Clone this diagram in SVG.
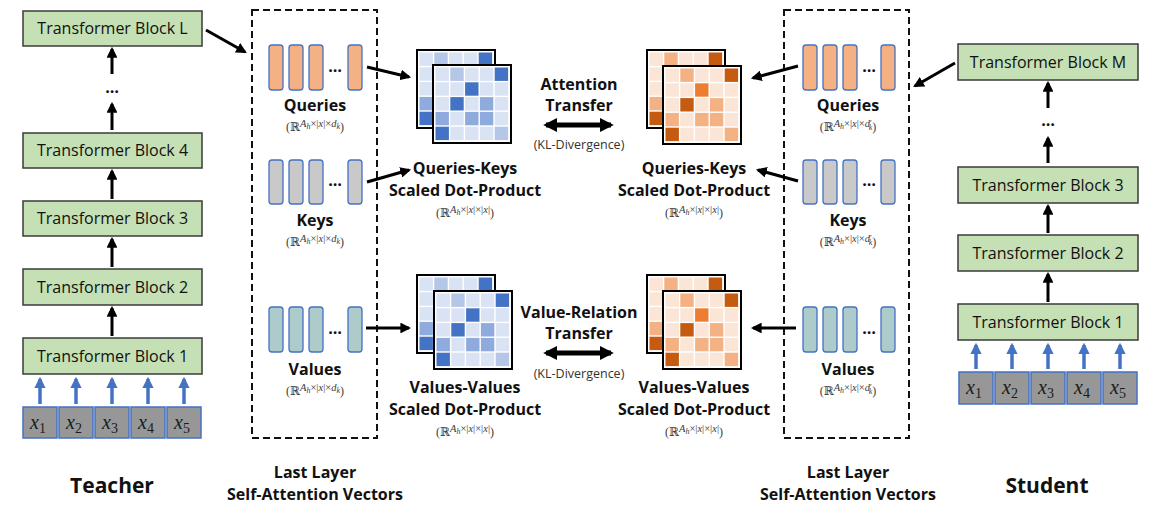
<svg xmlns="http://www.w3.org/2000/svg" xmlns:xlink="http://www.w3.org/1999/xlink" width="1160" height="509" viewBox="0 0 1160 509">
  <style>
    text { font-family: "Open Sans", "Liberation Sans", sans-serif; fill: #111; }
    .blk-box { fill: #c5e0b4; stroke: #3a3a3a; stroke-width: 1.5; }
    .blk { font-size: 16px; text-anchor: middle; }
    .lbl { font-size: 16px; font-weight: bold; text-anchor: middle; }
    .big { font-size: 21px; font-weight: bold; text-anchor: middle; }
    .kl { font-size: 12.5px; fill: #333; text-anchor: middle; }
    .dots { font-size: 16px; text-anchor: middle; font-weight: bold; }
    .f { font-family: "Liberation Serif", "DejaVu Serif", serif; font-size: 12px; fill: #3a3a3a; text-anchor: middle; }
    .f .sp { font-size: 10.5px; }
    .f .sb { font-size: 8px; }
    .f .it { font-style: italic; }
    .inp { fill: #979797; stroke: #4472c4; stroke-width: 1.5; }
    .xv { font-family: "Liberation Serif", "DejaVu Serif", serif; font-size: 20px; font-style: italic; fill: #1a1a1a; text-anchor: middle; }
    .xv tspan { font-size: 14px; font-style: normal; }
    .vq { fill: #f4b183; stroke: #4472c4; stroke-width: 1.3; }
    .vk { fill: #c9c9c9; stroke: #4472c4; stroke-width: 1.3; }
    .vv { fill: #aecbcb; stroke: #4472c4; stroke-width: 1.3; }
    .box { fill: none; stroke: #111; stroke-width: 2; stroke-dasharray: 7 4; }
    .arr { stroke: #000; stroke-width: 3; fill: none; marker-end: url(#ah); }
    .barr { stroke: #4472c4; stroke-width: 3.5; fill: none; marker-end: url(#bh); }
    .dbl { stroke: #000; stroke-width: 5; fill: none; marker-start: url(#dh); marker-end: url(#dh); }
    .mframe { fill: #fff; stroke: #000; stroke-width: 2; }
  </style>
  <defs>
    <marker id="ah" viewBox="0 0 10 10" refX="8" refY="5" markerWidth="3.6" markerHeight="3.6" orient="auto">
      <path d="M0,0 L10,5 L0,10 z" fill="#000"/>
    </marker>
    <marker id="bh" viewBox="0 0 10 10" refX="8" refY="5" markerWidth="3.2" markerHeight="3.2" orient="auto">
      <path d="M0,0 L10,5 L0,10 z" fill="#4472c4"/>
    </marker>
    <marker id="dh" viewBox="0 0 10 10" refX="8" refY="5" markerWidth="2.8" markerHeight="2.8" orient="auto-start-reverse">
      <path d="M0,0 L10,5 L0,10 z" fill="#000"/>
    </marker>
    <!-- 5x5 attention map, blue shades -->
    <g id="mB">
      <rect class="mframe" x="0" y="0" width="78" height="78"/>
      <g transform="translate(2.5,2.5)">
        <rect x="0" y="0" width="13.4" height="13.4" fill="#dae3f3"/><rect x="14.8" y="0" width="13.4" height="13.4" fill="#b4c7e7"/><rect x="29.6" y="0" width="13.4" height="13.4" fill="#dae3f3"/><rect x="44.4" y="0" width="13.4" height="13.4" fill="#dae3f3"/><rect x="59.2" y="0" width="13.4" height="13.4" fill="#4472c4"/>
        <rect x="0" y="14.8" width="13.4" height="13.4" fill="#dae3f3"/><rect x="14.8" y="14.8" width="13.4" height="13.4" fill="#dae3f3"/><rect x="29.6" y="14.8" width="13.4" height="13.4" fill="#4472c4"/><rect x="44.4" y="14.8" width="13.4" height="13.4" fill="#dae3f3"/><rect x="59.2" y="14.8" width="13.4" height="13.4" fill="#dae3f3"/>
        <rect x="0" y="29.6" width="13.4" height="13.4" fill="#dae3f3"/><rect x="14.8" y="29.6" width="13.4" height="13.4" fill="#4472c4"/><rect x="29.6" y="29.6" width="13.4" height="13.4" fill="#dae3f3"/><rect x="44.4" y="29.6" width="13.4" height="13.4" fill="#8faadc"/><rect x="59.2" y="29.6" width="13.4" height="13.4" fill="#dae3f3"/>
        <rect x="0" y="44.4" width="13.4" height="13.4" fill="#8faadc"/><rect x="14.8" y="44.4" width="13.4" height="13.4" fill="#dae3f3"/><rect x="29.6" y="44.4" width="13.4" height="13.4" fill="#8faadc"/><rect x="44.4" y="44.4" width="13.4" height="13.4" fill="#8faadc"/><rect x="59.2" y="44.4" width="13.4" height="13.4" fill="#dae3f3"/>
        <rect x="0" y="59.2" width="13.4" height="13.4" fill="#4472c4"/><rect x="14.8" y="59.2" width="13.4" height="13.4" fill="#dae3f3"/><rect x="29.6" y="59.2" width="13.4" height="13.4" fill="#dae3f3"/><rect x="44.4" y="59.2" width="13.4" height="13.4" fill="#dae3f3"/><rect x="59.2" y="59.2" width="13.4" height="13.4" fill="#b4c7e7"/>
      </g>
    </g>
    <!-- 5x5 attention map, orange shades -->
    <g id="mO">
      <rect class="mframe" x="0" y="0" width="78" height="78"/>
      <g transform="translate(2.5,2.5)">
        <rect x="0" y="0" width="13.4" height="13.4" fill="#fbe5d6"/><rect x="14.8" y="0" width="13.4" height="13.4" fill="#f4b183"/><rect x="29.6" y="0" width="13.4" height="13.4" fill="#fbe5d6"/><rect x="44.4" y="0" width="13.4" height="13.4" fill="#fbe5d6"/><rect x="59.2" y="0" width="13.4" height="13.4" fill="#c55a11"/>
        <rect x="0" y="14.8" width="13.4" height="13.4" fill="#fbe5d6"/><rect x="14.8" y="14.8" width="13.4" height="13.4" fill="#fbe5d6"/><rect x="29.6" y="14.8" width="13.4" height="13.4" fill="#ed7d31"/><rect x="44.4" y="14.8" width="13.4" height="13.4" fill="#fbe5d6"/><rect x="59.2" y="14.8" width="13.4" height="13.4" fill="#fbe5d6"/>
        <rect x="0" y="29.6" width="13.4" height="13.4" fill="#fbe5d6"/><rect x="14.8" y="29.6" width="13.4" height="13.4" fill="#c55a11"/><rect x="29.6" y="29.6" width="13.4" height="13.4" fill="#fbe5d6"/><rect x="44.4" y="29.6" width="13.4" height="13.4" fill="#f4b183"/><rect x="59.2" y="29.6" width="13.4" height="13.4" fill="#fbe5d6"/>
        <rect x="0" y="44.4" width="13.4" height="13.4" fill="#f4b183"/><rect x="14.8" y="44.4" width="13.4" height="13.4" fill="#fbe5d6"/><rect x="29.6" y="44.4" width="13.4" height="13.4" fill="#f4b183"/><rect x="44.4" y="44.4" width="13.4" height="13.4" fill="#f4b183"/><rect x="59.2" y="44.4" width="13.4" height="13.4" fill="#fbe5d6"/>
        <rect x="0" y="59.2" width="13.4" height="13.4" fill="#c55a11"/><rect x="14.8" y="59.2" width="13.4" height="13.4" fill="#fbe5d6"/><rect x="29.6" y="59.2" width="13.4" height="13.4" fill="#fbe5d6"/><rect x="44.4" y="59.2" width="13.4" height="13.4" fill="#fbe5d6"/><rect x="59.2" y="59.2" width="13.4" height="13.4" fill="#f4b183"/>
      </g>
    </g>
  </defs>

  <!-- Teacher stack -->
  <g id="teacher-block-L"><rect class="blk-box" x="23" y="11" width="179" height="35"/><text class="blk" x="112.5" y="34">Transformer Block L</text></g>
  <g id="teacher-block-4"><rect class="blk-box" x="23" y="133" width="179" height="35"/><text class="blk" x="112.5" y="156">Transformer Block 4</text></g>
  <g id="teacher-block-3"><rect class="blk-box" x="23" y="201" width="179" height="35"/><text class="blk" x="112.5" y="224">Transformer Block 3</text></g>
  <g id="teacher-block-2"><rect class="blk-box" x="23" y="269" width="179" height="36"/><text class="blk" x="112.5" y="293">Transformer Block 2</text></g>
  <g id="teacher-block-1"><rect class="blk-box" x="23" y="338" width="179" height="36"/><text class="blk" x="112.5" y="362">Transformer Block 1</text></g>
  <g id="teacher-dots"><text class="dots" x="112" y="93">…</text></g>
  <g id="teacher-inputs">
    <rect class="inp" x="23" y="407" width="34" height="31"/><text class="xv" x="38" y="429">x<tspan dy="4">1</tspan></text>
    <rect class="inp" x="59" y="407" width="34" height="31"/><text class="xv" x="74" y="429">x<tspan dy="4">2</tspan></text>
    <rect class="inp" x="95" y="407" width="34" height="31"/><text class="xv" x="110" y="429">x<tspan dy="4">3</tspan></text>
    <rect class="inp" x="131" y="407" width="34" height="31"/><text class="xv" x="146" y="429">x<tspan dy="4">4</tspan></text>
    <rect class="inp" x="167" y="407" width="34" height="31"/><text class="xv" x="182" y="429">x<tspan dy="4">5</tspan></text>
  </g>
  <g id="teacher-label"><text class="big" x="112" y="493">Teacher</text></g>

  <!-- Teacher last-layer vectors -->
  <g id="teacher-vectors">
    <rect class="box" x="252" y="10" width="125" height="428"/>
    <rect class="vq" x="269" y="45" width="14" height="45" rx="3"/><rect class="vq" x="289" y="45" width="14" height="45" rx="3"/><rect class="vq" x="309" y="45" width="14" height="45" rx="3"/><rect class="vq" x="348" y="45" width="14" height="45" rx="3"/>
    <text class="dots" x="335" y="72">…</text>
    <text class="lbl" x="315" y="111">Queries</text>
    <text class="f" x="315" y="131">(ℝ<tspan class="sp it" dy="-4">A</tspan><tspan class="sb it" dy="2">h</tspan><tspan class="sp" dy="-2">×|</tspan><tspan class="sp it">x</tspan><tspan class="sp">|×</tspan><tspan class="sp it">d</tspan><tspan class="sb it" dy="2">k</tspan><tspan dy="2">)</tspan></text>
    <rect class="vk" x="269" y="160" width="14" height="44" rx="3"/><rect class="vk" x="289" y="160" width="14" height="44" rx="3"/><rect class="vk" x="309" y="160" width="14" height="44" rx="3"/><rect class="vk" x="348" y="160" width="14" height="44" rx="3"/>
    <text class="dots" x="335" y="186">…</text>
    <text class="lbl" x="315" y="226">Keys</text>
    <text class="f" x="315" y="246">(ℝ<tspan class="sp it" dy="-4">A</tspan><tspan class="sb it" dy="2">h</tspan><tspan class="sp" dy="-2">×|</tspan><tspan class="sp it">x</tspan><tspan class="sp">|×</tspan><tspan class="sp it">d</tspan><tspan class="sb it" dy="2">k</tspan><tspan dy="2">)</tspan></text>
    <rect class="vv" x="269" y="307" width="14" height="45" rx="3"/><rect class="vv" x="289" y="307" width="14" height="45" rx="3"/><rect class="vv" x="309" y="307" width="14" height="45" rx="3"/><rect class="vv" x="348" y="307" width="14" height="45" rx="3"/>
    <text class="dots" x="335" y="334">…</text>
    <text class="lbl" x="315" y="375">Values</text>
    <text class="f" x="315" y="395">(ℝ<tspan class="sp it" dy="-4">A</tspan><tspan class="sb it" dy="2">h</tspan><tspan class="sp" dy="-2">×|</tspan><tspan class="sp it">x</tspan><tspan class="sp">|×</tspan><tspan class="sp it">d</tspan><tspan class="sb it" dy="2">k</tspan><tspan dy="2">)</tspan></text>
  </g>
  <g id="teacher-caption"><text class="lbl" x="315" y="478">Last Layer</text><text class="lbl" x="315" y="500">Self-Attention Vectors</text></g>

  <!-- Teacher attention maps -->
  <g id="teacher-qk">
    <use xlink:href="#mB" x="417" y="50"/><use xlink:href="#mB" x="433" y="65"/>
    <text class="lbl" x="465" y="174">Queries-Keys</text>
    <text class="lbl" x="465" y="196">Scaled Dot-Product</text>
    <text class="f" x="465" y="217">(ℝ<tspan class="sp it" dy="-4">A</tspan><tspan class="sb it" dy="2">h</tspan><tspan class="sp" dy="-2">×|</tspan><tspan class="sp it">x</tspan><tspan class="sp">|×|</tspan><tspan class="sp it">x</tspan><tspan class="sp">|</tspan><tspan dy="4">)</tspan></text>
  </g>
  <g id="teacher-vv">
    <use xlink:href="#mB" x="417" y="275"/><use xlink:href="#mB" x="434" y="291"/>
    <text class="lbl" x="465" y="393">Values-Values</text>
    <text class="lbl" x="465" y="415">Scaled Dot-Product</text>
    <text class="f" x="465" y="436">(ℝ<tspan class="sp it" dy="-4">A</tspan><tspan class="sb it" dy="2">h</tspan><tspan class="sp" dy="-2">×|</tspan><tspan class="sp it">x</tspan><tspan class="sp">|×|</tspan><tspan class="sp it">x</tspan><tspan class="sp">|</tspan><tspan dy="4">)</tspan></text>
  </g>

  <!-- Transfer objectives -->
  <g id="attention-transfer">
    <text class="lbl" x="579" y="90">Attention</text>
    <text class="lbl" x="579" y="111">Transfer</text>
    <text class="kl" x="579" y="149">(KL-Divergence)</text>
  </g>
  <g id="value-relation-transfer">
    <text class="lbl" x="579" y="318">Value-Relation</text>
    <text class="lbl" x="579" y="339">Transfer</text>
    <text class="kl" x="579" y="378">(KL-Divergence)</text>
  </g>

  <!-- Student attention maps -->
  <g id="student-qk">
    <use xlink:href="#mO" x="647" y="50"/><use xlink:href="#mO" x="663" y="66"/>
    <text class="lbl" x="694" y="174">Queries-Keys</text>
    <text class="lbl" x="694" y="196">Scaled Dot-Product</text>
    <text class="f" x="694" y="217">(ℝ<tspan class="sp it" dy="-4">A</tspan><tspan class="sb it" dy="2">h</tspan><tspan class="sp" dy="-2">×|</tspan><tspan class="sp it">x</tspan><tspan class="sp">|×|</tspan><tspan class="sp it">x</tspan><tspan class="sp">|</tspan><tspan dy="4">)</tspan></text>
  </g>
  <g id="student-vv">
    <use xlink:href="#mO" x="647" y="275"/><use xlink:href="#mO" x="663" y="291"/>
    <text class="lbl" x="694" y="393">Values-Values</text>
    <text class="lbl" x="694" y="415">Scaled Dot-Product</text>
    <text class="f" x="694" y="436">(ℝ<tspan class="sp it" dy="-4">A</tspan><tspan class="sb it" dy="2">h</tspan><tspan class="sp" dy="-2">×|</tspan><tspan class="sp it">x</tspan><tspan class="sp">|×|</tspan><tspan class="sp it">x</tspan><tspan class="sp">|</tspan><tspan dy="4">)</tspan></text>
  </g>

  <!-- Student last-layer vectors -->
  <g id="student-vectors">
    <rect class="box" x="784" y="10" width="125" height="428"/>
    <rect class="vq" x="803" y="45" width="14" height="45" rx="3"/><rect class="vq" x="823" y="45" width="14" height="45" rx="3"/><rect class="vq" x="843" y="45" width="14" height="45" rx="3"/><rect class="vq" x="881" y="45" width="14" height="45" rx="3"/>
    <text class="dots" x="869" y="72">…</text>
    <text class="lbl" x="848" y="111">Queries</text>
    <text class="f" x="848" y="131">(ℝ<tspan class="sp it" dy="-4">A</tspan><tspan class="sb it" dy="2">h</tspan><tspan class="sp" dy="-2">×|</tspan><tspan class="sp it">x</tspan><tspan class="sp">|×</tspan><tspan class="sp it">d</tspan><tspan class="sb" dy="-1">′</tspan><tspan class="sb it" dx="-3" dy="4">k</tspan><tspan dy="1">)</tspan></text>
    <rect class="vk" x="803" y="160" width="14" height="44" rx="3"/><rect class="vk" x="823" y="160" width="14" height="44" rx="3"/><rect class="vk" x="843" y="160" width="14" height="44" rx="3"/><rect class="vk" x="881" y="160" width="14" height="44" rx="3"/>
    <text class="dots" x="869" y="186">…</text>
    <text class="lbl" x="848" y="226">Keys</text>
    <text class="f" x="848" y="246">(ℝ<tspan class="sp it" dy="-4">A</tspan><tspan class="sb it" dy="2">h</tspan><tspan class="sp" dy="-2">×|</tspan><tspan class="sp it">x</tspan><tspan class="sp">|×</tspan><tspan class="sp it">d</tspan><tspan class="sb" dy="-1">′</tspan><tspan class="sb it" dx="-3" dy="4">k</tspan><tspan dy="1">)</tspan></text>
    <rect class="vv" x="803" y="307" width="14" height="45" rx="3"/><rect class="vv" x="823" y="307" width="14" height="45" rx="3"/><rect class="vv" x="843" y="307" width="14" height="45" rx="3"/><rect class="vv" x="881" y="307" width="14" height="45" rx="3"/>
    <text class="dots" x="869" y="334">…</text>
    <text class="lbl" x="848" y="375">Values</text>
    <text class="f" x="848" y="395">(ℝ<tspan class="sp it" dy="-4">A</tspan><tspan class="sb it" dy="2">h</tspan><tspan class="sp" dy="-2">×|</tspan><tspan class="sp it">x</tspan><tspan class="sp">|×</tspan><tspan class="sp it">d</tspan><tspan class="sb" dy="-1">′</tspan><tspan class="sb it" dx="-3" dy="4">k</tspan><tspan dy="1">)</tspan></text>
  </g>
  <g id="student-caption"><text class="lbl" x="848" y="478">Last Layer</text><text class="lbl" x="848" y="500">Self-Attention Vectors</text></g>

  <!-- Student stack -->
  <g id="student-block-M"><rect class="blk-box" x="958" y="44" width="180" height="36"/><text class="blk" x="1048" y="68">Transformer Block M</text></g>
  <g id="student-block-3"><rect class="blk-box" x="958" y="167" width="180" height="36"/><text class="blk" x="1048" y="191">Transformer Block 3</text></g>
  <g id="student-block-2"><rect class="blk-box" x="958" y="235" width="180" height="36"/><text class="blk" x="1048" y="259">Transformer Block 2</text></g>
  <g id="student-block-1"><rect class="blk-box" x="958" y="304" width="180" height="36"/><text class="blk" x="1048" y="328">Transformer Block 1</text></g>
  <g id="student-dots"><text class="dots" x="1048" y="126">…</text></g>
  <g id="student-inputs">
    <rect class="inp" x="959" y="372" width="34" height="32"/><text class="xv" x="974" y="394">x<tspan dy="4">1</tspan></text>
    <rect class="inp" x="995" y="372" width="34" height="32"/><text class="xv" x="1010" y="394">x<tspan dy="4">2</tspan></text>
    <rect class="inp" x="1031" y="372" width="34" height="32"/><text class="xv" x="1046" y="394">x<tspan dy="4">3</tspan></text>
    <rect class="inp" x="1067" y="372" width="34" height="32"/><text class="xv" x="1082" y="394">x<tspan dy="4">4</tspan></text>
    <rect class="inp" x="1103" y="372" width="34" height="32"/><text class="xv" x="1118" y="394">x<tspan dy="4">5</tspan></text>
  </g>
  <g id="student-label"><text class="big" x="1047" y="493">Student</text></g>

  <!-- Connectors -->
  <g id="connectors">
    <!-- teacher stack -->
    <line class="arr" x1="112" y1="336" x2="112" y2="308"/>
    <line class="arr" x1="112" y1="267" x2="112" y2="239"/>
    <line class="arr" x1="112" y1="199" x2="112" y2="171"/>
    <line class="arr" x1="112" y1="130" x2="112" y2="104"/>
    <line class="arr" x1="112" y1="74" x2="112" y2="49"/>
    <line class="barr" x1="40" y1="404" x2="40" y2="379"/>
    <line class="barr" x1="76" y1="404" x2="76" y2="379"/>
    <line class="barr" x1="112" y1="404" x2="112" y2="379"/>
    <line class="barr" x1="148" y1="404" x2="148" y2="379"/>
    <line class="barr" x1="184" y1="404" x2="184" y2="379"/>
    <line class="arr" x1="206" y1="30" x2="245" y2="52"/>
    <!-- teacher vectors to maps -->
    <line class="arr" x1="367" y1="67" x2="409" y2="77"/>
    <line class="arr" x1="367" y1="182" x2="409" y2="170"/>
    <line class="arr" x1="366" y1="328" x2="409" y2="328"/>
    <!-- transfer -->
    <line class="dbl" x1="546" y1="125" x2="611" y2="125"/>
    <line class="dbl" x1="546" y1="353" x2="611" y2="353"/>
    <!-- student vectors to maps -->
    <line class="arr" x1="798" y1="66" x2="753" y2="78"/>
    <line class="arr" x1="798" y1="181" x2="758" y2="170"/>
    <line class="arr" x1="796" y1="328" x2="753" y2="328"/>
    <line class="arr" x1="955" y1="63" x2="915" y2="86"/>
    <!-- student stack -->
    <line class="arr" x1="1048" y1="302" x2="1048" y2="274"/>
    <line class="arr" x1="1048" y1="233" x2="1048" y2="206"/>
    <line class="arr" x1="1048" y1="163" x2="1048" y2="138"/>
    <line class="arr" x1="1048" y1="108" x2="1048" y2="83"/>
    <line class="barr" x1="976" y1="369" x2="976" y2="345"/>
    <line class="barr" x1="1012" y1="369" x2="1012" y2="345"/>
    <line class="barr" x1="1048" y1="369" x2="1048" y2="345"/>
    <line class="barr" x1="1084" y1="369" x2="1084" y2="345"/>
    <line class="barr" x1="1120" y1="369" x2="1120" y2="345"/>
  </g>
</svg>
